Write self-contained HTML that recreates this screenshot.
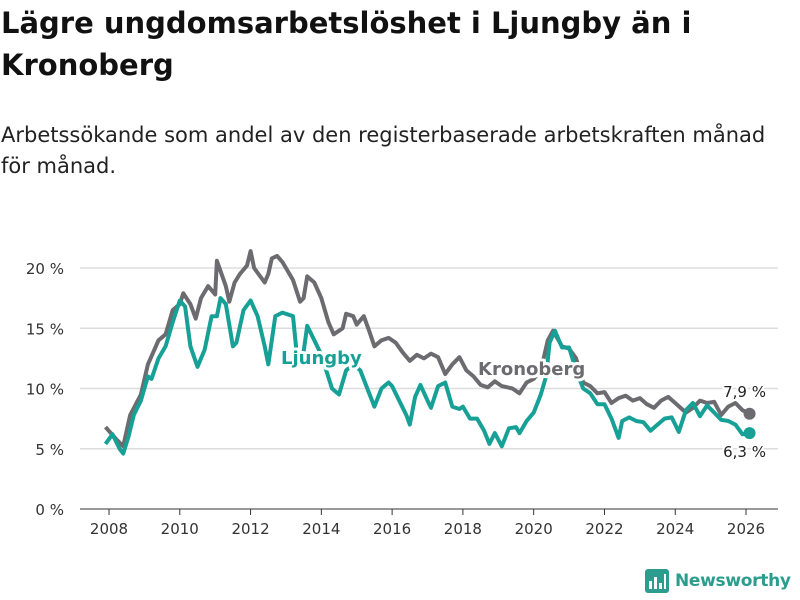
<!DOCTYPE html>
<html><head><meta charset="utf-8">
<style>
body{margin:0;width:800px;height:600px;background:#fff;font-family:"DejaVu Sans","Liberation Sans",sans-serif;overflow:hidden;position:relative;color:#111}
#title{position:absolute;left:1px;top:2px;font-size:29px;font-weight:bold;line-height:42px;width:798px}
#subtitle{position:absolute;left:1px;top:120px;font-size:21px;line-height:31px;color:#222;width:799px}
svg{position:absolute;left:0;top:0}
#logo{position:absolute;left:645px;top:569px;display:flex;align-items:center;gap:6px;color:#2a9d8f}
</style></head><body>
<div id="title">Lägre ungdomsarbetslöshet i Ljungby än i Kronoberg</div>
<div id="subtitle">Arbetssökande som andel av den registerbaserade arbetskraften månad för månad.</div>
<svg id="chart" width="800" height="600"></svg>
<div id="logo">
<svg width="24" height="24" style="position:static"><rect x="0" y="0" width="24" height="24" rx="3" fill="#2a9d8f"/><rect x="4" y="12" width="3" height="8" fill="#fff"/><rect x="9" y="8" width="3" height="12" fill="#fff"/><rect x="14" y="14" width="3" height="6" fill="#fff"/><rect x="19" y="5" width="2" height="15" fill="#fff"/></svg>
<span style="font-size:17px;font-weight:bold;letter-spacing:-0.3px">Newsworthy</span></div>
<script>
const yTicks=[0,5,10,15,20];
const xTicks=[2008,2010,2012,2014,2016,2018,2020,2022,2024,2026];
const kronDates=[2007.9,2008.2,2008.4,2008.6,2008.9,2009.1,2009.4,2009.6,2009.8,2010.0,2010.1,2010.3,2010.45,2010.6,2010.8,2011.0,2011.05,2011.3,2011.4,2011.55,2011.7,2011.9,2012.0,2012.1,2012.4,2012.5,2012.6,2012.75,2012.9,2013.2,2013.4,2013.5,2013.6,2013.8,2014.0,2014.2,2014.35,2014.6,2014.7,2014.9,2015.0,2015.2,2015.35,2015.5,2015.7,2015.9,2016.1,2016.3,2016.5,2016.7,2016.9,2017.1,2017.3,2017.5,2017.7,2017.9,2018.1,2018.3,2018.5,2018.7,2018.9,2019.1,2019.4,2019.6,2019.8,2020.0,2020.2,2020.4,2020.55,2020.8,2021.0,2021.2,2021.4,2021.6,2021.8,2022.0,2022.2,2022.4,2022.6,2022.8,2023.0,2023.2,2023.4,2023.6,2023.8,2024.0,2024.3,2024.5,2024.7,2024.9,2025.1,2025.3,2025.5,2025.7,2025.9,2026.1];
const kronValues=[6.8,5.8,5.2,7.8,9.5,12.0,14.0,14.5,16.5,17.0,17.9,17.0,15.8,17.5,18.5,17.8,20.6,18.5,17.2,18.8,19.5,20.2,21.4,20.0,18.8,19.5,20.8,21.0,20.5,19.0,17.2,17.5,19.3,18.8,17.5,15.5,14.5,15.0,16.2,16.0,15.3,16.0,14.8,13.5,14.0,14.2,13.8,13.0,12.3,12.8,12.5,12.9,12.6,11.2,12.0,12.6,11.5,11.0,10.3,10.1,10.6,10.2,10.0,9.6,10.5,10.8,11.5,14.0,14.8,13.5,13.3,12.5,10.5,10.2,9.6,9.7,8.8,9.2,9.4,9.0,9.2,8.7,8.4,9.0,9.3,8.8,8.0,8.4,9.0,8.8,8.9,7.8,8.5,8.8,8.2,7.9];
const ljDates=[2007.9,2008.1,2008.3,2008.4,2008.55,2008.7,2008.9,2009.1,2009.2,2009.4,2009.6,2009.8,2010.0,2010.15,2010.3,2010.5,2010.7,2010.9,2011.05,2011.15,2011.3,2011.5,2011.6,2011.8,2012.0,2012.2,2012.4,2012.5,2012.7,2012.9,2013.2,2013.3,2013.45,2013.6,2013.8,2014.0,2014.3,2014.5,2014.7,2014.9,2015.1,2015.3,2015.5,2015.7,2015.9,2016.0,2016.2,2016.4,2016.5,2016.65,2016.8,2017.0,2017.1,2017.3,2017.5,2017.7,2017.9,2018.0,2018.2,2018.4,2018.6,2018.75,2018.9,2019.1,2019.3,2019.5,2019.6,2019.8,2020.0,2020.2,2020.35,2020.45,2020.6,2020.8,2021.0,2021.2,2021.4,2021.6,2021.8,2022.0,2022.2,2022.4,2022.5,2022.7,2022.9,2023.1,2023.3,2023.5,2023.7,2023.9,2024.1,2024.3,2024.5,2024.7,2024.9,2025.1,2025.3,2025.5,2025.7,2025.9,2026.1];
const ljValues=[5.4,6.2,5.0,4.6,6.0,7.8,9.0,11.0,10.8,12.5,13.5,15.5,17.3,16.8,13.5,11.8,13.2,16.0,16.0,17.5,17.0,13.5,13.8,16.5,17.3,16.0,13.5,12.0,16.0,16.3,16.0,13.0,12.0,15.2,14.0,12.8,10.0,9.5,11.5,12.0,11.5,10.0,8.5,10.0,10.5,10.2,9.0,7.8,7.0,9.3,10.3,9.0,8.4,10.2,10.5,8.5,8.3,8.5,7.5,7.5,6.5,5.4,6.3,5.2,6.7,6.8,6.3,7.3,8.0,9.5,11.0,13.8,14.8,13.4,13.4,11.5,10.0,9.6,8.7,8.7,7.5,5.9,7.3,7.6,7.3,7.2,6.5,7.0,7.5,7.6,6.4,8.2,8.8,7.7,8.6,8.0,7.4,7.3,7.0,6.2,6.3];
const NS="http://www.w3.org/2000/svg";
const svg=document.getElementById('chart');
const x=v=>109+(v-2008)*35.39;
const y=v=>509-v*12.05;
function mk(t,a){const e=document.createElementNS(NS,t);for(const k in a)e.setAttribute(k,a[k]);svg.appendChild(e);return e;}
yTicks.forEach(t=>{
 const l=mk('line',{x1:80,x2:778,y1:y(t),y2:y(t),stroke:t===0?'#333':'#ddd','stroke-width':t===0?1:1.5});
 
 
 const tx=mk('text',{x:64,y:y(t)+6,'text-anchor':'end','font-size':15,fill:'#333'});
 tx.textContent=t+' %';
 
 
});
xTicks.forEach(t=>{
 const l=mk('line',{x1:x(t),x2:x(t),y1:509,y2:515,stroke:'#333'});
 
 
 const tx=mk('text',{x:x(t),y:534,'text-anchor':'middle','font-size':15,fill:'#333'});
 tx.textContent=t;
 
 
});
function path(d,v){return d.map((t,i)=>(i?'L':'M')+x(t).toFixed(1)+' '+y(v[i]).toFixed(1)).join(' ');}
const kp=mk('path',{d:path(kronDates,kronValues),fill:'none',stroke:'#6b6b70','stroke-width':4,'stroke-linejoin':'round'});


const lp=mk('path',{d:path(ljDates,ljValues),fill:'none',stroke:'#16a096','stroke-width':4,'stroke-linejoin':'round'});


const kd=mk('circle',{cx:x(kronDates[kronDates.length-1]),cy:y(kronValues[kronValues.length-1]),r:6,fill:'#6b6b70'});


const ld=mk('circle',{cx:x(ljDates[ljDates.length-1]),cy:y(ljValues[ljValues.length-1]),r:6,fill:'#16a096'});


function lab(t,px,py,c,b,name,anchor){const e=mk('text',{x:px,y:py,'font-size':b?18:15,'font-weight':b?'bold':'normal',fill:c,'text-anchor':anchor||'start',stroke:'#fff','stroke-width':b?6:4,'paint-order':'stroke','stroke-linejoin':'round'});e.textContent=t;
 
 }
lab('Ljungby',281,364,'#16a096',true,'ljungby-label');
lab('Kronoberg',478,375,'#6b6b70',true,'kronoberg-label');
lab(String(kronValues[kronValues.length-1]).replace('.',',')+' %',766,397,'#222',false,'kronoberg-end-value','end');
lab(String(ljValues[ljValues.length-1]).replace('.',',')+' %',766,457,'#222',false,'ljungby-end-value','end');
</script>
</body></html>
